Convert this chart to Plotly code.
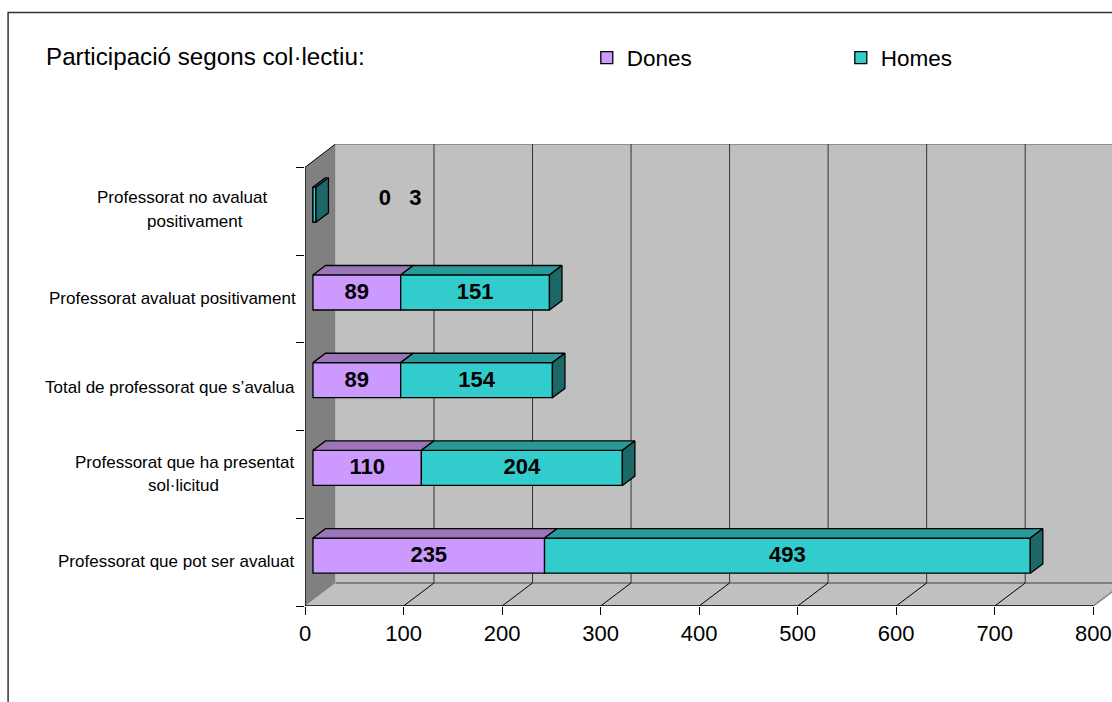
import plotly.graph_objects as go

# Values (bottom to top)
categories = [
    "Professorat que pot ser avaluat",
    "Professorat que ha presentat|sol·licitud",
    "Total de professorat que s’avalua",
    "Professorat avaluat positivament",
    "Professorat no avaluat|positivament",
]
dones = [235, 110, 89, 89, 0]
homes = [493, 204, 154, 151, 3]
x_ticks = [0, 100, 200, 300, 400, 500, 600, 700, 800]
y_ticks = [0, 1, 2, 3, 4, 5]

FONT = "Liberation Sans"
PURPLE, PURPLE_TOP = "#CC99FF", "#9C75B8"
TEAL, TEAL_TOP, TEAL_SIDE = "#33CCCC", "#289A9A", "#1C6868"

# Page geometry, body margin is removed when the page loads
W, H = 1112, 702
L, T = 305.3, 144
X_MAX = 819
Y_MAX = 5.266
PLOT_W = W - L
PLOT_H = 461.7

# 3d depth in axis units
WALL_DX, WALL_DY = 30.9, 0.262
BAR_X0, BAR_LIFT = 8.1, 0.074
BAR_H = 0.40
BAR_DX, BAR_DY = 12.7, 0.107


def px(v):
    return (v - L) / PLOT_W


def py(v):
    return 1 - (v - T) / PLOT_H


y_pos = [i + 0.5 + BAR_LIFT for i in range(len(categories))]
starts_d = [BAR_X0 for _ in dones]
starts_h = [BAR_X0 + d for d in dones]

fig = go.Figure()

# Front faces
fig.add_trace(go.Bar(
    y=y_pos, x=dones, base=starts_d, orientation="h", width=BAR_H, name="Dones",
    marker=dict(color=PURPLE, line=dict(color="black", width=1.3)), hoverinfo="skip",
))
fig.add_trace(go.Bar(
    y=y_pos, x=homes, base=starts_h, orientation="h", width=BAR_H, name="Homes",
    marker=dict(color=TEAL, line=dict(color="black", width=1.3)), hoverinfo="skip",
))


def top_faces(starts, values):
    xs, ys = [], []
    for s, v, y in zip(starts, values, y_pos):
        t = y + BAR_H / 2
        xs += [s, s + v, s + v + BAR_DX, s + BAR_DX, s, None]
        ys += [t, t, t + BAR_DY, t + BAR_DY, t, None]
    return xs, ys


def side_faces(starts, values):
    xs, ys = [], []
    for s, v, y in zip(starts, values, y_pos):
        e = s + v
        t, b = y + BAR_H / 2, y - BAR_H / 2
        xs += [e, e + BAR_DX, e + BAR_DX, e, e, None]
        ys += [t, t + BAR_DY, b + BAR_DY, b, t, None]
    return xs, ys


for (xs, ys), color in [
    (top_faces(starts_d, dones), PURPLE_TOP),
    (top_faces(starts_h, homes), TEAL_TOP),
    (side_faces(starts_h, homes), TEAL_SIDE),
]:
    fig.add_trace(go.Scatter(
        x=xs, y=ys, mode="lines", fill="toself", fillcolor=color,
        line=dict(color="black", width=1.3), showlegend=False, hoverinfo="skip",
    ))

# Data labels, the top row sits away from its tiny bar
label_x, label_y, label_text = [], [], []
for i in range(len(categories) - 1):
    label_x += [starts_d[i] + dones[i] / 2, starts_h[i] + homes[i] / 2]
    label_y += [y_pos[i] - 0.01, y_pos[i] - 0.01]
    label_text += [str(dones[i]), str(homes[i])]
label_x += [81, 112]
label_y += [y_pos[-1] + 0.06, y_pos[-1] + 0.06]
label_text += [str(dones[-1]), str(homes[-1])]
fig.add_trace(go.Scatter(
    x=label_x, y=label_y, text=label_text, mode="text", textposition="middle center",
    textfont=dict(family=FONT, size=22, color="black", weight="bold"),
    showlegend=False, hoverinfo="skip",
))

# Walls and floor
shapes = [
    dict(type="path", layer="below", xref="x", yref="y", fillcolor="#C0C0C0", line_width=0,
         path=f"M 0 0 L {800} 0 L {800 + WALL_DX} {WALL_DY} L {WALL_DX + 800} {Y_MAX} "
              f"L {WALL_DX} {Y_MAX} L {WALL_DX} {WALL_DY} Z"),
    dict(type="path", layer="below", xref="x", yref="y", fillcolor="#808080", line_width=0,
         path=f"M 0 0 L 0 5 L {WALL_DX} {Y_MAX} L {WALL_DX} {WALL_DY} Z"),
    dict(type="line", layer="below", xref="x", yref="y", x0=WALL_DX, x1=X_MAX, y0=WALL_DY, y1=WALL_DY,
         line=dict(color="#808080", width=2)),
    dict(type="line", layer="below", xref="x", yref="y", x0=WALL_DX, x1=X_MAX, y0=Y_MAX, y1=Y_MAX,
         line=dict(color="#808080", width=1.5)),
    dict(type="line", layer="below", xref="x", yref="y", x0=800, x1=800 + WALL_DX, y0=0, y1=WALL_DY,
         line=dict(color="#808080", width=1.5)),
    dict(type="line", layer="below", xref="x", yref="y", x0=0, x1=800, y0=0, y1=0,
         line=dict(color="black", width=1.3)),
    dict(type="line", layer="below", xref="x", yref="y", x0=0, x1=0, y0=0, y1=5,
         line=dict(color="black", width=1.3)),
    dict(type="line", layer="below", xref="x", yref="y", x0=0, x1=WALL_DX, y0=5, y1=Y_MAX,
         line=dict(color="black", width=1)),
]
for k in x_ticks[1:-1]:
    shapes.append(dict(type="line", layer="below", xref="x", yref="y",
                       x0=k, x1=k + WALL_DX, y0=0, y1=WALL_DY, line=dict(color="black", width=1)))
    shapes.append(dict(type="line", layer="below", xref="x", yref="y",
                       x0=k + WALL_DX, x1=k + WALL_DX, y0=WALL_DY, y1=Y_MAX,
                       line=dict(color="#333333", width=1)))

# Chart border, runs off the page on the right and bottom
shapes.append(dict(type="path", xref="paper", yref="paper", line=dict(color="#333333", width=1.5),
                   path=f"M {px(8.5)} {py(720)} L {px(8.5)} {py(12.5)} L {px(1130)} {py(12.5)}"))

annotations = [dict(
    text="Participació segons col·lectiu:", xref="paper", yref="paper",
    x=px(44.5), y=py(57), xanchor="left", yanchor="middle", showarrow=False,
    font=dict(family=FONT, size=24.2, color="black"),
)]

# Category labels: hand placed lines, Excel's wrapped text has wide leading
label_spots = [
    [(177, 561)],
    [(185, 462), (184, 485)],
    [(170, 387)],
    [(173, 298)],
    [(182, 197), (195, 221)],
]
for name, spots in zip(categories, label_spots):
    for line, (cx, cy) in zip(name.split("|"), spots):
        annotations.append(dict(
            text=line, xref="paper", yref="paper", x=px(cx), y=py(cy),
            xanchor="center", yanchor="middle", showarrow=False,
            font=dict(family=FONT, size=17, color="black"),
        ))

fig.update_layout(
    width=W, height=H, autosize=False,
    margin=dict(l=L, r=0, t=T, b=H - T - PLOT_H, pad=0, autoexpand=False),
    paper_bgcolor="white", plot_bgcolor="white",
    barmode="overlay", shapes=shapes, annotations=annotations,
    showlegend=True,
    legend=dict(
        orientation="h", x=px(587), y=py(58), xanchor="left", yanchor="middle",
        entrywidth=209, entrywidthmode="pixels", traceorder="normal",
        font=dict(family=FONT, size=22.5, color="black"), bgcolor="rgba(0,0,0,0)",
    ),
    xaxis=dict(
        range=[0, X_MAX], tickvals=x_ticks, ticks="outside", ticklen=8, tickcolor="black",
        tickwidth=1, showgrid=False, zeroline=False, showline=False, automargin=False,
        tickfont=dict(family=FONT, size=22, color="black"),
    ),
    yaxis=dict(
        range=[0, Y_MAX], tickvals=y_ticks, ticks="outside", ticklen=8, tickcolor="black",
        tickwidth=1, showgrid=False, zeroline=False, showline=False, showticklabels=False,
        automargin=False,
    ),
)

fig.write_html("out.html", config={"displayModeBar": False},
               post_script="document.body.style.margin = '0';")
